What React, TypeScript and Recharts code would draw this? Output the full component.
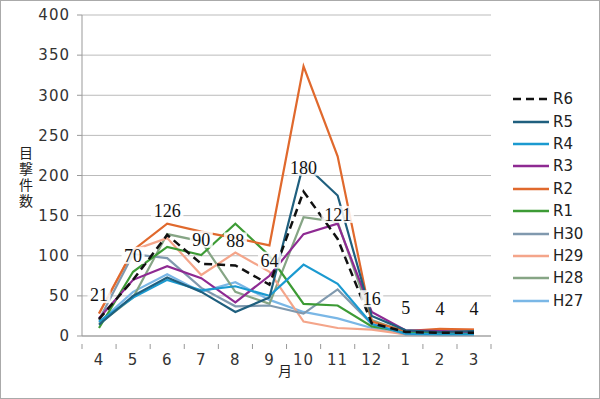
import { CartesianGrid, LabelList, Line, LineChart, XAxis, YAxis } from "recharts";

const months = ["4", "5", "6", "7", "8", "9", "10", "11", "12", "1", "2", "3"];
const yTicks = [0, 50, 100, 150, 200, 250, 300, 350, 400];

const r6 = [21, 70, 126, 90, 88, 64, 180, 121, 16, 5, 4, 4];
const r5 = [14, 50, 73, 55, 30, 48, 215, 175, 25, 7, 5, 6];
const r4 = [18, 48, 70, 57, 62, 50, 89, 65, 15, 3, 2, 2];
const r3 = [22, 70, 87, 72, 42, 75, 127, 140, 30, 7, 6, 5];
const r2 = [28, 107, 140, 130, 122, 113, 336, 224, 18, 6, 9, 8];
const r1 = [10, 80, 111, 101, 140, 100, 40, 38, 12, 5, 3, 3];
const h30 = [20, 102, 97, 60, 37, 38, 28, 58, 15, 2, 2, 2];
const h29 = [28, 107, 122, 76, 104, 80, 18, 10, 8, 2, 8, 8];
const h28 = [15, 48, 127, 118, 55, 40, 148, 142, 20, 5, 3, 3];
const h27 = [17, 55, 77, 55, 67, 45, 30, 22, 10, 2, 1, 1];

// legend order, top to bottom
const series = [
  { key: "R6", values: r6, color: "#111111", dash: true },
  { key: "R5", values: r5, color: "#1f5f7e" },
  { key: "R4", values: r4, color: "#1b9ad0" },
  { key: "R3", values: r3, color: "#8e2a92" },
  { key: "R2", values: r2, color: "#e0692d" },
  { key: "R1", values: r1, color: "#3d9b35" },
  { key: "H30", values: h30, color: "#8099ae" },
  { key: "H29", values: h29, color: "#f4a58a" },
  { key: "H28", values: h28, color: "#86a585" },
  { key: "H27", values: h27, color: "#7ab7e6" },
];

const data = months.map((m, i) => {
  const row: Record<string, string | number> = { month: m };
  series.forEach((s) => {
    row[s.key] = s.values[i];
  });
  return row;
});

const SANS = "'DejaVu Sans', 'Noto Sans CJK JP', sans-serif";
const HALF_STEP = 17;

function MonthTick(props: any) {
  const { x, y, payload, index } = props;
  const last = index === months.length - 1;
  return (
    <g>
      <line x1={x - HALF_STEP} x2={x - HALF_STEP} y1={y} y2={y + 5} stroke="#999" />
      {last && <line x1={x + HALF_STEP} x2={x + HALF_STEP} y1={y} y2={y + 5} stroke="#999" />}
      <text x={x} y={y + 21} textAnchor="middle" fill="#333" fontSize={15} fontFamily={SANS} letterSpacing={1}>
        {payload.value}
      </text>
    </g>
  );
}

function ValueLabel(props: any) {
  const { x, y, value } = props;
  const w = String(value).length * 9.5 + 4;
  return (
    <g>
      <rect x={x - w / 2} y={y - 33} width={w} height={17} fill="#fff" fillOpacity={0.85} />
      <text x={x} y={y - 18} textAnchor="middle" fill="#111" fontSize={18} fontFamily="'Liberation Serif', serif">
        {value}
      </text>
    </g>
  );
}

function SeriesLegend() {
  return (
    <div style={{ position: "absolute", left: 510, top: 87, fontFamily: SANS, fontSize: 15, color: "#222" }}>
      {series.map((s) => (
        <div key={s.key} style={{ display: "flex", alignItems: "center", height: 22.4 }}>
          <svg width={40} height={6} style={{ marginRight: 2 }}>
            <line
              x1={2}
              x2={38}
              y1={3}
              y2={3}
              stroke={s.color}
              strokeWidth={2.5}
              strokeDasharray={s.dash ? "8 5" : undefined}
            />
          </svg>
          <span>{s.key}</span>
        </div>
      ))}
    </div>
  );
}

export default function App() {
  const drawOrder = [...series].reverse();
  return (
    <div
      style={{
        position: "absolute",
        left: 0,
        top: 0,
        width: 600,
        height: 399,
        border: "1px solid #aaa",
        boxSizing: "border-box",
        background: "#fff",
      }}
    >
      <LineChart width={598} height={397} data={data} margin={{ top: 14, right: 108, bottom: 32, left: 21 }}>
        <CartesianGrid vertical={false} stroke="#bbb" />
        <XAxis
          dataKey="month"
          padding={{ left: HALF_STEP, right: HALF_STEP }}
          axisLine={{ stroke: "#999" }}
          tickLine={false}
          tick={<MonthTick />}
          interval={0}
          height={30}
        />
        <YAxis
          domain={[0, 400]}
          ticks={yTicks}
          width={60}
          axisLine={{ stroke: "#999" }}
          tickLine={{ stroke: "#999" }}
          tickSize={5}
          tickMargin={7}
          tick={{ fill: "#333", fontSize: 15, fontFamily: SANS, letterSpacing: 1 }}
        />
        {drawOrder.map((s) => (
          <Line
            key={s.key}
            dataKey={s.key}
            type="linear"
            stroke={s.color}
            strokeWidth={s.dash ? 2.5 : 2.2}
            strokeDasharray={s.dash ? "8 5" : undefined}
            dot={false}
            activeDot={false}
            isAnimationActive={false}
          >
            {s.dash && <LabelList dataKey={s.key} content={<ValueLabel />} />}
          </Line>
        ))}
      </LineChart>
      <SeriesLegend />
      <div
        style={{
          position: "absolute",
          left: 15,
          top: 145,
          writingMode: "vertical-rl",
          textOrientation: "upright",
          fontFamily: "'Noto Sans CJK JP', sans-serif",
          fontSize: 14,
          letterSpacing: 2,
          color: "#222",
        }}
      >
        目撃件数
      </div>
      <div
        style={{
          position: "absolute",
          left: 277,
          top: 359,
          fontFamily: "'Noto Sans CJK JP', sans-serif",
          fontSize: 14,
          color: "#222",
        }}
      >
        月
      </div>
    </div>
  );
}
